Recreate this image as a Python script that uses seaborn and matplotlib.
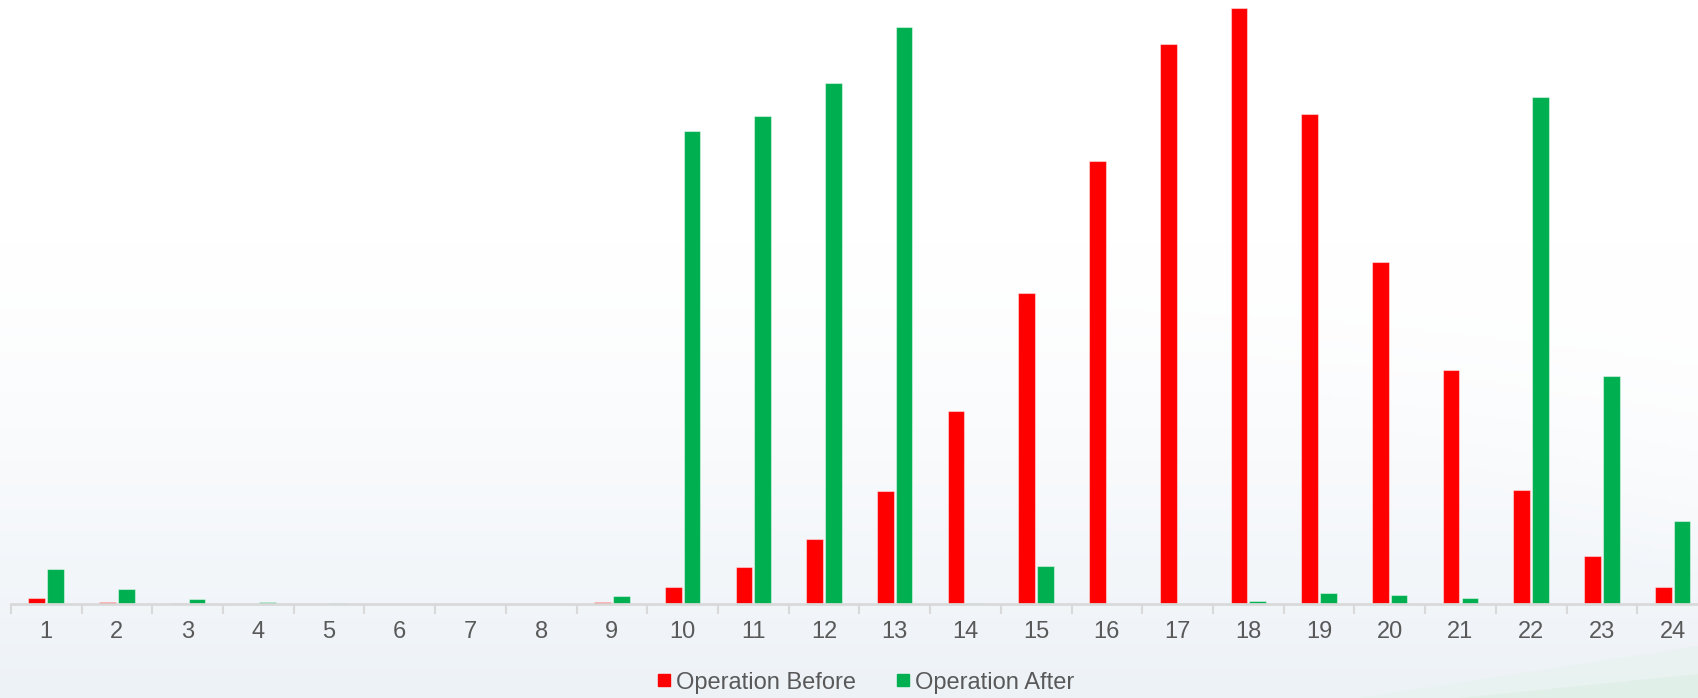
import numpy as np
import pandas as pd
import matplotlib
matplotlib.use("Agg")
import matplotlib.pyplot as plt
from matplotlib.lines import Line2D
from matplotlib.patches import Polygon
import seaborn as sns

# --- Data (arbitrary units) ---
hours = [str(h) for h in range(1, 25)]
before = [6, 2, 0.5, 0, 0, 0, 0, 0, 2, 16, 34, 60, 104, 178, 287, 409,
          517, 551, 453, 316, 216, 105, 44, 16]
after = [32, 14, 5, 2, 1, 0, 0, 0, 7, 437, 451, 481, 533, 1, 35, 0,
         0, 3, 10, 8, 6, 468, 211, 77]
series_names = ['Operation Before', 'Operation After']
colors = ['#FF0000', '#00B050']

df = pd.DataFrame({'Hour': hours * 2,
                   'Value': before + after,
                   'Series': [series_names[0]] * 24 + [series_names[1]] * 24})

# --- Style ---
sns.set_style('white')
plt.rcParams['font.family'] = ['Liberation Sans', 'DejaVu Sans']
text_grey = '#595959'
axis_grey = '#D9D9D9'

fig = plt.figure(figsize=(16.98, 6.98), dpi=100)

# --- Soft background gradient ---
bg = fig.add_axes([0, 0, 1, 1], zorder=-10)
h, w = 200, 400
yy, xx = np.mgrid[0:1:h * 1j, 0:1:w * 1j]
t = np.clip((yy - 0.35) / 0.65, 0, 1) ** 1.3
top = np.array([1.0, 1.0, 1.0])
bottom = np.array([237, 242, 247]) / 255
img = top * (1 - t[..., None]) + bottom * t[..., None]
# white diagonal area towards the top right
diag = np.clip((xx - 0.75) * 3 - (yy - 0.55) * 2.5, 0, 1)
img = img * (1 - diag[..., None] * 0.7) + diag[..., None] * 0.7
bg.imshow(img, extent=[0, 1, 0, 1], origin='upper', aspect='auto')
bg.add_patch(Polygon([[0.80, 0], [1, 0], [1, 0.075]], closed=True,
                     color='#E6F2EC', alpha=0.6, lw=0))
bg.add_patch(Polygon([[0.86, 0], [1, 0], [1, 0.035]], closed=True,
                     color='#DCEEE4', alpha=0.6, lw=0))
bg.set_xlim(0, 1)
bg.set_ylim(0, 1)
bg.axis('off')

# --- Bars ---
ax = fig.add_axes([10.8 / 1698, 94 / 698, 1697.2 / 1698, 604 / 698])
ax.patch.set_alpha(0)
sns.barplot(data=df, x='Hour', y='Value', hue='Series', palette=colors,
            saturation=1, width=0.53, gap=0.11,
            edgecolor=(1, 1, 1, 0.45), linewidth=0.8,
            legend=False, ax=ax)

ax.set_xlim(-0.5, 23.5)
ax.set_ylim(0, 558)
ax.set_xlabel('')
ax.set_ylabel('')
ax.set_yticks([])
for side in ['top', 'right', 'left']:
    ax.spines[side].set_visible(False)
ax.spines['bottom'].set_color(axis_grey)
ax.spines['bottom'].set_linewidth(2)

ax.set_xticks(range(24))
ax.set_xticklabels(hours, fontsize=17, color=text_grey)
ax.tick_params(axis='x', which='major', bottom=True, length=0, pad=12)
ax.set_xticks(np.arange(-0.5, 24, 1), minor=True)
ax.tick_params(axis='x', which='minor', bottom=True, length=7, width=1.5,
               color=axis_grey)

# --- Legend ---
handles = [Line2D([], [], marker='s', linestyle='none', markersize=9,
                  markerfacecolor=c, markeredgecolor=c) for c in colors]
fig.legend(handles, series_names, loc='center', bbox_to_anchor=(0.509, 0.022),
           ncol=2, frameon=False, fontsize=17, labelcolor=text_grey,
           handletextpad=0.1, columnspacing=1.6, handlelength=0.8)

fig.savefig('out.png', dpi=100)
